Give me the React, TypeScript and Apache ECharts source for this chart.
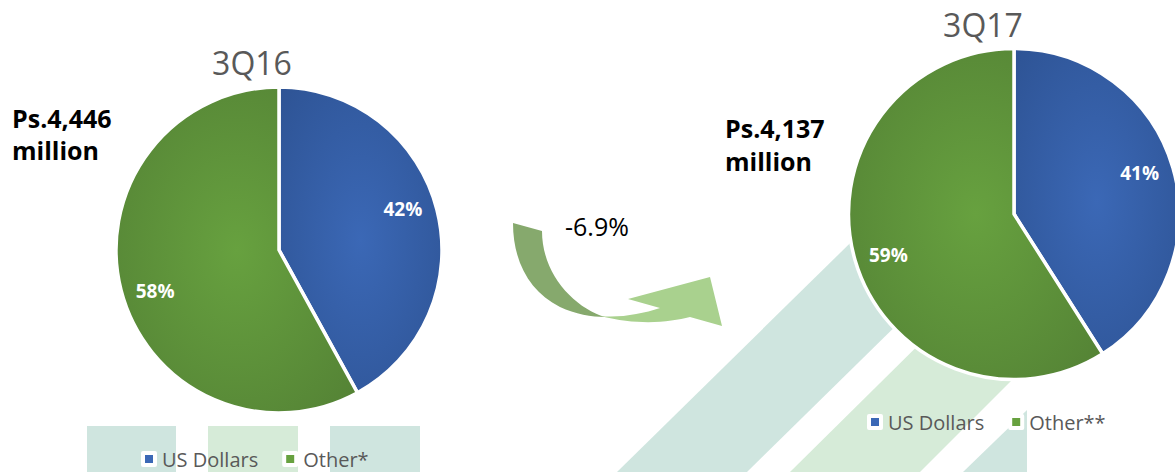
import React, { useEffect, useRef } from "react";
import * as echarts from "echarts";

const periods = ["3Q16", "3Q17"];
const namesLeft = ["US Dollars", "Other*"];
const namesRight = ["US Dollars", "Other**"];
const values3Q16 = [42, 58];
const values3Q17 = [41, 59];
const totals = ["Ps.4,446", "Ps.4,137"];
const unitLabel = "million";
const changeLabel = "-6.9%";

const FONT = "Open Sans";
const BLUE = { inner: "#3b68b6", outer: "#2d5292" };
const GREEN = { inner: "#67a13f", outer: "#527f34" };

const grad = (c: { inner: string; outer: string }) => ({
  type: "radial",
  x: 0.5,
  y: 0.5,
  r: 0.75,
  colorStops: [
    { offset: 0, color: c.inner },
    { offset: 1, color: c.outer },
  ],
});

const sliceColors = [BLUE, GREEN];

const ARROW_DARK =
  "M513,223 C513,262 530,292 560,307 C575,314 592,317 605,317 C575,308 542,275 542,231 Z";
const ARROW_LIGHT =
  "M600,316 C620,318 642,314 660,308 L628,299 L710,277 L722,326 L690,317 C670,322 640,326 600,316 Z";

let registered = false;
function registerShapes() {
  if (registered) return;
  registered = true;
  echarts.graphic.registerShape("arrowDark", echarts.graphic.extendPath(ARROW_DARK, {}));
  echarts.graphic.registerShape("arrowLight", echarts.graphic.extendPath(ARROW_LIGHT, {}));
}

export default function App() {
  const ref = useRef<HTMLDivElement>(null);

  useEffect(() => {
    if (!ref.current) return;
    registerShapes();
    const chart = echarts.init(ref.current, null, { renderer: "svg" });

    const mainData = (names: string[], vals: number[]) =>
      names.map((n, i) => ({
        name: n,
        value: vals[i],
        itemStyle: { color: grad(sliceColors[i]) },
      }));
    const labelData = (names: string[], vals: number[]) =>
      names.map((n, i) => ({ name: n, value: vals[i] }));

    const mainPie = (center: number[], r: number, names: string[], vals: number[]) => ({
      type: "pie",
      center,
      radius: [0, r],
      startAngle: 90,
      clockwise: true,
      silent: true,
      z: 2,
      label: { show: false },
      labelLine: { show: false },
      emphasis: { disabled: true },
      itemStyle: { borderColor: "#ffffff", borderWidth: 3.5 },
      data: mainData(names, vals),
    });
    const labelPie = (
      center: number[],
      r0: number,
      r: number,
      start: number,
      names: string[],
      vals: number[]
    ) => ({
      type: "pie",
      center,
      radius: [r0, r],
      startAngle: start,
      clockwise: true,
      silent: true,
      z: 3,
      avoidLabelOverlap: false,
      emphasis: { disabled: true },
      itemStyle: { color: "rgba(0,0,0,0)", borderWidth: 0 },
      label: {
        show: true,
        position: "inside",
        formatter: "{c}%",
        color: "#ffffff",
        fontFamily: FONT,
        fontWeight: "bold",
        fontSize: 19,
      },
      labelLine: { show: false },
      data: labelData(names, vals),
    });

    const legendCommon = {
      orient: "horizontal",
      icon: "rect",
      itemWidth: 12,
      itemHeight: 12,
      itemGap: 24,
      padding: 0,
      selectedMode: false,
      textStyle: { fontFamily: FONT, fontSize: 20, color: "#595959", padding: [0, 0, 0, 2] },
    };
    const legendItems = (names: string[]) =>
      names.map((n, i) => ({
        name: n,
        itemStyle: { color: sliceColors[i].inner, borderColor: "#ffffff", borderWidth: 4 },
      }));

    const teal = "#cfe5df";
    const lightGreen = "#d6ebd8";

    chart.setOption({
      animation: false,
      backgroundColor: "#ffffff",
      legend: [
        { ...legendCommon, left: 141, top: 449, data: legendItems(namesLeft) },
        { ...legendCommon, left: 867, top: 412, data: legendItems(namesRight) },
      ],
      graphic: [
        // background decoration
        { type: "rect", z: -10, shape: { x: 87, y: 426, width: 89, height: 50 }, style: { fill: teal } },
        { type: "rect", z: -10, shape: { x: 208, y: 426, width: 90, height: 50 }, style: { fill: lightGreen } },
        { type: "rect", z: -10, shape: { x: 330, y: 426, width: 90, height: 50 }, style: { fill: teal } },
        {
          type: "polygon",
          z: -10,
          shape: { points: [[617, 472], [747, 472], [1024, 200], [894, 200]] },
          style: { fill: teal },
        },
        {
          type: "polygon",
          z: -10,
          shape: { points: [[790, 472], [920, 472], [1092, 300], [964, 300]] },
          style: { fill: lightGreen },
        },
        {
          type: "polygon",
          z: -10,
          shape: { points: [[963, 472], [1027, 472], [1027, 410]] },
          style: { fill: teal },
        },
        // curved arrow
        { type: "arrowDark", x: 0, y: 0, style: { fill: "#86a96d" } },
        { type: "arrowLight", x: 0, y: 0, style: { fill: "#a9d18e" } },
        // texts
        {
          type: "text",
          x: 252,
          y: 62,
          style: { text: periods[0], fontFamily: FONT, fontSize: 32, fill: "#595959", textAlign: "center", textVerticalAlign: "middle" },
        },
        {
          type: "text",
          x: 983,
          y: 24,
          style: { text: periods[1], fontFamily: FONT, fontSize: 32, fill: "#595959", textAlign: "center", textVerticalAlign: "middle" },
        },
        {
          type: "text",
          x: 12,
          y: 118,
          style: { text: totals[0], fontFamily: FONT, fontWeight: "bold", fontSize: 25, fill: "#000000", textAlign: "left", textVerticalAlign: "middle" },
        },
        {
          type: "text",
          x: 12,
          y: 150,
          style: { text: unitLabel, fontFamily: FONT, fontWeight: "bold", fontSize: 25, fill: "#000000", textAlign: "left", textVerticalAlign: "middle" },
        },
        {
          type: "text",
          x: 725,
          y: 128,
          style: { text: totals[1], fontFamily: FONT, fontWeight: "bold", fontSize: 25, fill: "#000000", textAlign: "left", textVerticalAlign: "middle" },
        },
        {
          type: "text",
          x: 725,
          y: 161,
          style: { text: unitLabel, fontFamily: FONT, fontWeight: "bold", fontSize: 25, fill: "#000000", textAlign: "left", textVerticalAlign: "middle" },
        },
        {
          type: "text",
          x: 565,
          y: 226,
          style: { text: changeLabel, fontFamily: FONT, fontSize: 25, fill: "#000000", textAlign: "left", textVerticalAlign: "middle" },
        },
      ],
      series: [
        mainPie([279, 250], 163, namesLeft, values3Q16),
        mainPie([1014, 214], 165.5, namesRight, values3Q17),
        labelPie([279, 250], 92, 163, 94, namesLeft, values3Q16),
        labelPie([1014, 214], 93, 165.5, 92, namesRight, values3Q17),
      ],
    });

    return () => chart.dispose();
  }, []);

  return (
    <div
      ref={ref}
      style={{ position: "absolute", left: 0, top: 0, width: 1175, height: 472 }}
    />
  );
}
